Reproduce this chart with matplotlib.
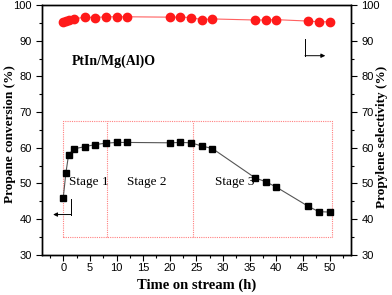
import matplotlib
matplotlib.use("Agg")
import matplotlib.pyplot as plt
from matplotlib.ticker import MultipleLocator

# time on stream (h)
time_h = [0, 0.5, 1, 2, 4, 6, 8, 10, 12, 20, 22, 24, 26, 28, 36, 38, 40, 46, 48, 50]
conversion = [46.0, 53.0, 58.0, 59.7, 60.3, 60.9, 61.3, 61.5, 61.5, 61.4, 61.5, 61.4,
              60.5, 59.8, 51.6, 50.5, 49.0, 43.6, 42.1, 42.0]
selectivity = [95.3, 95.5, 95.8, 96.1, 96.6, 96.5, 96.7, 96.7, 96.7, 96.6, 96.6, 96.5,
               95.9, 96.1, 95.8, 95.8, 95.9, 95.5, 95.3, 95.3]

stage_labels = ["Stage 1", "Stage 2", "Stage 3"]
stage_bounds = [8.2, 24.3]

SERIF = "Liberation Serif"
SANS = "Liberation Sans"

fig = plt.figure(figsize=(3.92, 2.95), dpi=100)
ax = fig.add_axes([0.107, 0.136, 0.788, 0.847])
ax2 = ax.twinx()

ax.plot(time_h, conversion, color="#555555", lw=0.8, marker="s", ms=5,
        mfc="black", mec="black", zorder=3)
ax2.plot(time_h, selectivity, color="#ff6060", lw=0.8, marker="o", ms=6,
         mfc="#ff1a1a", mec="#ff1a1a", zorder=3)

# stage box
box_kw = dict(color="#ff8080", lw=0.8, ls=(0, (1, 1)))
ax.plot([0, 50.5, 50.5, 0, 0], [35, 35, 67.5, 67.5, 35], **box_kw)
for b in stage_bounds:
    ax.plot([b, b], [35, 67.5], **box_kw)

for lbl, xpos in zip(stage_labels, [1.0, 12.0, 28.5]):
    ax.text(xpos, 50.5, lbl, family=SERIF, fontsize=9.5, va="center", ha="left")

ax.text(1.6, 84.2, "PtIn/Mg(Al)O", family=SERIF, fontsize=10, fontweight="bold",
        va="center", ha="left")

# axis indicator arrows
ax.plot([1.45, 1.45], [45.6, 41.3], color="black", lw=0.7)
ax.annotate("", xy=(-1.9, 41.3), xytext=(1.45, 41.3),
            arrowprops=dict(arrowstyle="-|>", color="black", lw=0.7,
                            mutation_scale=6, shrinkA=0, shrinkB=0))
ax.plot([45.4, 45.4], [90.4, 85.8], color="black", lw=0.7)
ax.annotate("", xy=(49.2, 85.8), xytext=(45.4, 85.8),
            arrowprops=dict(arrowstyle="-|>", color="black", lw=0.7,
                            mutation_scale=6, shrinkA=0, shrinkB=0))

for a in (ax, ax2):
    a.set_ylim(30, 100)
    a.yaxis.set_major_locator(MultipleLocator(10))
    a.yaxis.set_minor_locator(MultipleLocator(5))
    a.tick_params(which="both", direction="out", labelsize=8, width=0.8)
    a.tick_params(which="major", length=4)
    a.tick_params(which="minor", length=2.5)
    for lab in a.get_yticklabels():
        lab.set_family(SANS)
    for sp in a.spines.values():
        sp.set_linewidth(1.0)

ax.set_xlim(-4, 54)
ax.xaxis.set_major_locator(MultipleLocator(5))
ax.xaxis.set_minor_locator(MultipleLocator(2.5))
for lab in ax.get_xticklabels():
    lab.set_family(SANS)
ax.tick_params(axis="x", pad=2)

ax.set_xlabel("Time on stream (h)", family=SERIF, fontsize=10.5, fontweight="bold")
lab_kw = dict(family=SERIF, fontsize=9.5, fontweight="bold", rotation=90,
              ha="center", va="center")
fig.text(0.025, 0.545, "Propane conversion (%)", **lab_kw)
fig.text(0.975, 0.535, "Propylene selectivity (%)", **lab_kw)

fig.savefig("out.png", dpi=100)
